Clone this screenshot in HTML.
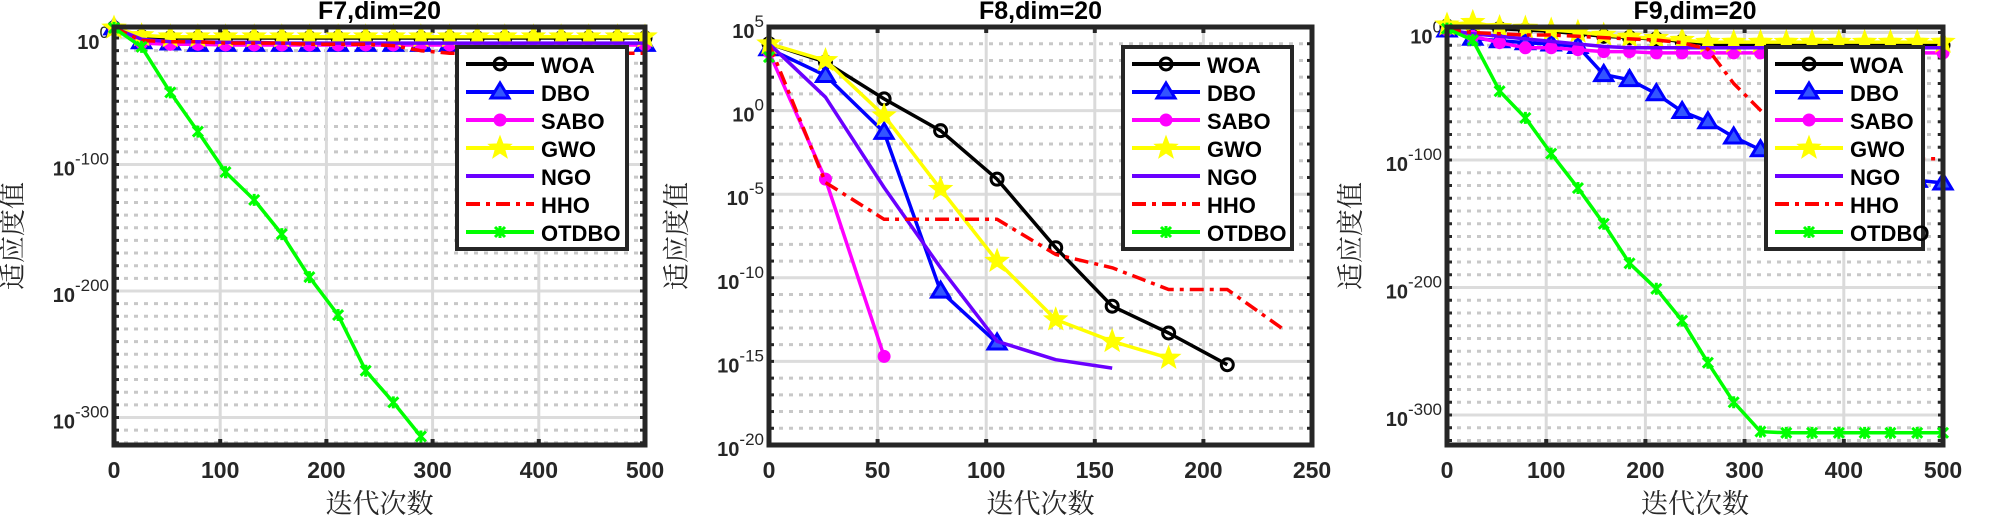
<!DOCTYPE html>
<html><head><meta charset="utf-8">
<style>
html,body{margin:0;padding:0;background:#fff;}
svg{display:block;}
text{font-family:"Liberation Sans",Arial,sans-serif;}
.cn{font-family:"Liberation Serif","Noto Serif CJK SC","Noto Sans CJK SC",serif;}
</style></head>
<body>
<svg id="chart" width="2000" height="520" viewBox="0 0 2000 520" xmlns="http://www.w3.org/2000/svg"></svg>
<script>
// ---- data (log10 of fitness) ----
const iters = [0,26,53,79,105,132,158,184,211,237,263,289,316,342,368,395,421,447,474,500];
const seriesNames = ["WOA","DBO","SABO","GWO","NGO","HHO","OTDBO"];

const f7WOA   = [8,1,0,0,0,0,0,0,0,0,0,0,0,0,0,0,0,0,0,0];
const f7DBO   = [8,-3,-4,-5,-5,-5,-5,-5,-5,-5,-5,-5,-5,-5,-5,-5,-5,-5,-5,-5];
const f7SABO  = [8,-4,-5,-5,-5.5,-5.5,-5.5,-5.5,-5.5,-5.5,-5.5,-5.5,-5.5,-5.5,-5.5,-5.5,-5.5,-5.5,-5.5,-5.5];
const f7GWO   = [8,2,1,1,1,1,1,1,1,1,1,1,1,1,1,1,1,1,1,1];
const f7NGO   = [8,-1,-3,-3,-3.5,-3.5,-4,-4,-4,-4,-4,-4,-4,-4,-4,-4,-4,-4,-4,-4];
const f7HHO   = [8,-2,-3,-3,-4,-4,-4,-5,-5,-5,-6,-10,-12,-12,-12,-12,-12,-12,-12,-12];
const f7OTDBO = [8,-7,-43,-74,-106,-128,-155,-189,-219,-263,-288,-315];

const f8WOA   = [4,2.9,0.7,-1.2,-4.1,-8.2,-11.7,-13.3,-15.2];
const f8DBO   = [3.7,2.1,-1.3,-10.8,-13.9];
const f8SABO  = [3.5,-4.1,-14.7];
const f8GWO   = [4,3,-0.3,-4.7,-9,-12.5,-13.8,-14.8];
const f8NGO   = [4,0.8,-4.6,-9.4,-13.8,-14.9,-15.4];
const f8HHO   = [4,-4.3,-6.5,-6.5,-6.5,-8.6,-9.4,-10.7,-10.7,-13.1];
const f8OTDBO = [3.2];

const f9WOA   = [5,5,3,2,1,-1,-3,-4,-5,-7,-9,-10,-10,-10,-10,-10,-10,-10,-10,-10];
const f9DBO   = [2,-4.5,-6.5,-8,-9,-11,-33,-37,-48,-62,-70,-82,-92,-97,-102,-107,-111,-114,-116,-118];
const f9SABO  = [2,-3,-8,-12,-12,-13.5,-15,-15,-16,-16,-16,-16,-16,-16,-16,-16,-16,-16,-16,-16];
const f9GWO   = [6,8,4,3.5,2,0.4,-2,-3.5,-4.5,-6,-7.5,-7.5,-7.5,-7.5,-7.5,-7.5,-7.5,-7.5,-7.5,-7.5];
const f9NGO   = [2,-1,-3,-5,-7,-9,-11,-12,-12,-12,-12,-12,-12,-12,-12,-12,-12,-12,-12,-12];
const f9HHO   = [2,0,-1,-2,-2,-3,-4,-5,-6,-8,-13,-40,-61,-80,-95,-99,-99,-99,-99,-99];
const f9OTDBO = [3,-6,-46,-67,-95,-122,-150,-181,-201,-226,-259,-290,-313,-314,-314,-314,-314,-314,-314,-314];

const titles = ["F7,dim=20","F8,dim=20","F9,dim=20"];
const f8XTicks = [0,50,100,150,200,250];
const bigXTicks = [0,100,200,300,400,500];
const bigYTicks = [0,-100,-200,-300];
const f8YTicks = [5,0,-5,-10,-15,-20];

const NS = "http://www.w3.org/2000/svg";
const svg = document.getElementById("chart");
function el(tag, attrs, parent){
  const e = document.createElementNS(NS, tag);
  for (const k in attrs) if(attrs[k]!==null) e.setAttribute(k, attrs[k]);
  (parent||svg).appendChild(e);
  return e;
}
const styles = {
  WOA:{color:"#000000", marker:"circle", dash:null},
  DBO:{color:"#0000ff", marker:"tri", dash:null},
  SABO:{color:"#ff00ff", marker:"dot", dash:null},
  GWO:{color:"#ffff00", marker:"star", dash:null},
  NGO:{color:"#6a00ff", marker:null, dash:null},
  HHO:{color:"#ff0000", marker:null, dash:"14 6 4 6"},
  OTDBO:{color:"#00ff00", marker:"x", dash:null}
};
function starPts(cx,cy,R){
  let p=[];
  for(let i=0;i<10;i++){
    const r = i%2===0?R:R*0.42;
    const a = -Math.PI/2 + i*Math.PI/5;
    p.push((cx+r*Math.cos(a)).toFixed(1)+","+(cy+r*Math.sin(a)).toFixed(1));
  }
  return p.join(" ");
}
function drawMarker(g, type, color, x, y){
  let m;
  if(type==="circle"){
    m=el("circle",{cx:x,cy:y,r:6,fill:"none",stroke:color,"stroke-width":3},g);
  }else if(type==="tri"){
    m=el("polygon",{points:`${x},${y-9} ${x-9},${y+6} ${x+9},${y+6}`,fill:"#3355ff",stroke:color,"stroke-width":3},g);
  }else if(type==="dot"){
    m=el("circle",{cx:x,cy:y,r:6,fill:color,stroke:color,"stroke-width":1},g);
  }else if(type==="star"){
    m=el("polygon",{points:starPts(x,y,12),fill:color,stroke:color,"stroke-width":1},g);
  }else if(type==="x"){
    m=el("path",{d:`M${x-5},${y-5}L${x+5},${y+5}M${x-5},${y+5}L${x+5},${y-5}M${x},${y-6}L${x},${y+6}`,stroke:color,"stroke-width":3,fill:"none"},g);
  }
  if(m){
    
    
  }
}

function drawPanel(cfg){
  const {id,L,R,T,B,xmax,xTicks,dTop,dBot,yTicks,minorStep,title,data,legend} = cfg;
  const g = el("g",{});
  
  
  const sx = v => L + (v/xmax)*(R-L);
  const sy = d => T + (dTop-d)/(dTop-dBot)*(B-T);
  const dStart = Math.ceil(dBot/minorStep)*minorStep;
  for(let d=dStart; d<=dTop; d+=minorStep){
    const y=sy(d);
    const isMajor = yTicks.includes(d);
    const ln = el("line",{x1:L,x2:R,y1:y,y2:y,stroke:isMajor?"#dcdcdc":"#c8c8c8","stroke-width":3,"stroke-dasharray":isMajor?null:"4 6"},g);
    
    
    el("line",{x1:L,x2:L+5,y1:y,y2:y,stroke:"#262626","stroke-width":3},g);
    el("line",{x1:R-5,x2:R,y1:y,y2:y,stroke:"#262626","stroke-width":3},g);
  }
  xTicks.forEach(v=>{
    const x=sx(v);
    const ln=el("line",{x1:x,x2:x,y1:T,y2:B,stroke:"#dadada","stroke-width":3},g);
    
    
    el("line",{x1:x,x2:x,y1:B,y2:B-6,stroke:"#262626","stroke-width":4},g);
    el("line",{x1:x,x2:x,y1:T,y2:T+6,stroke:"#262626","stroke-width":4},g);
    const t=el("text",{x:x,y:B+33,"text-anchor":"middle","font-size":23,"font-weight":"bold",fill:"#262626"},g);
    t.textContent=v;
    
    
  });
  yTicks.forEach(d=>{
    const y=sy(d);
    const t=el("text",{x:L-5,y:y+11,"text-anchor":"end","font-size":20,"font-weight":"bold",fill:"#262626"},g);
    
    
    t.textContent="10";
    const s=el("tspan",{dy:-11,"font-size":17,"font-weight":"normal"},t);
    s.textContent=String(d);
  });
  const sg = el("g",{},g);
  seriesNames.forEach(name=>{
    const vals = data[name];
    const st = styles[name];
    const pts = vals.map((d,i)=>sx(iters[i]).toFixed(1)+","+sy(d).toFixed(1)).join(" ");
    const pl = el("polyline",{points:pts,fill:"none",stroke:st.color,"stroke-width":3.5,"stroke-linejoin":"round"},sg);
    if(st.dash) pl.setAttribute("stroke-dasharray",st.dash);
    
    
    if(st.marker) vals.forEach((d,i)=>drawMarker(sg,st.marker,st.color,sx(iters[i]),sy(d)));
  });
  const box=el("rect",{x:L,y:T,width:R-L,height:B-T,fill:"none",stroke:"#262626","stroke-width":5},g);
  
  
  const tt=el("text",{x:(L+R)/2,y:19,"text-anchor":"middle","font-size":25,"font-weight":"bold",fill:"#000"},g);
  tt.textContent=title;
  
  
  const xl=el("text",{x:(L+R)/2,y:513,"text-anchor":"middle","font-size":27,fill:"#262626",class:"cn"},g);
  xl.textContent="迭代次数";
  
  
  const yx = cfg.ylabX;
  const yl=el("text",{x:yx,y:236,"text-anchor":"middle","font-size":27,fill:"#262626",class:"cn",transform:`rotate(-90 ${yx} 236)`},g);
  yl.textContent="适应度值";
  
  
  const lg=el("g",{},g);
  
  
  el("rect",{x:legend.x,y:47,width:legend.w,height:202,fill:"#fff",stroke:"#262626","stroke-width":4},lg);
  seriesNames.forEach((name,i)=>{
    const y=64+i*28;
    const st=styles[name];
    const eg=el("g",{},lg);
    
    
    const ln=el("line",{x1:legend.x+9,x2:legend.x+77,y1:y,y2:y,stroke:st.color,"stroke-width":4},eg);
    if(st.dash) ln.setAttribute("stroke-dasharray","14 6 4 6");
    if(st.marker) drawMarker(eg,st.marker,st.color,legend.x+43,y);
    const t=el("text",{x:legend.x+84,y:y+9,"font-size":22,"font-weight":"bold",fill:"#000"},eg);
    t.textContent=name;
  });
}

drawPanel({id:"f7",L:114,R:645,T:27,B:445,xmax:500,xTicks:bigXTicks,dTop:(38-27)/1.265,dBot:-(445-38)/1.265,
  yTicks:bigYTicks,minorStep:10,title:titles[0],ylabX:22,
  data:{WOA:f7WOA,DBO:f7DBO,SABO:f7SABO,GWO:f7GWO,NGO:f7NGO,HHO:f7HHO,OTDBO:f7OTDBO},legend:{x:457,w:170}});
drawPanel({id:"f8",L:769,R:1312,T:27,B:445,xmax:250,xTicks:f8XTicks,dTop:5,dBot:-20,
  yTicks:f8YTicks,minorStep:1,title:titles[1],ylabX:686,
  data:{WOA:f8WOA,DBO:f8DBO,SABO:f8SABO,GWO:f8GWO,NGO:f8NGO,HHO:f8HHO,OTDBO:f8OTDBO},legend:{x:1123,w:169}});
drawPanel({id:"f9",L:1447,R:1943,T:27,B:445,xmax:500,xTicks:bigXTicks,dTop:(32.5-27)/1.275,dBot:-(445-32.5)/1.275,
  yTicks:bigYTicks,minorStep:10,title:titles[2],ylabX:1360,
  data:{WOA:f9WOA,DBO:f9DBO,SABO:f9SABO,GWO:f9GWO,NGO:f9NGO,HHO:f9HHO,OTDBO:f9OTDBO},legend:{x:1766,w:157}});
</script>
</body></html>
